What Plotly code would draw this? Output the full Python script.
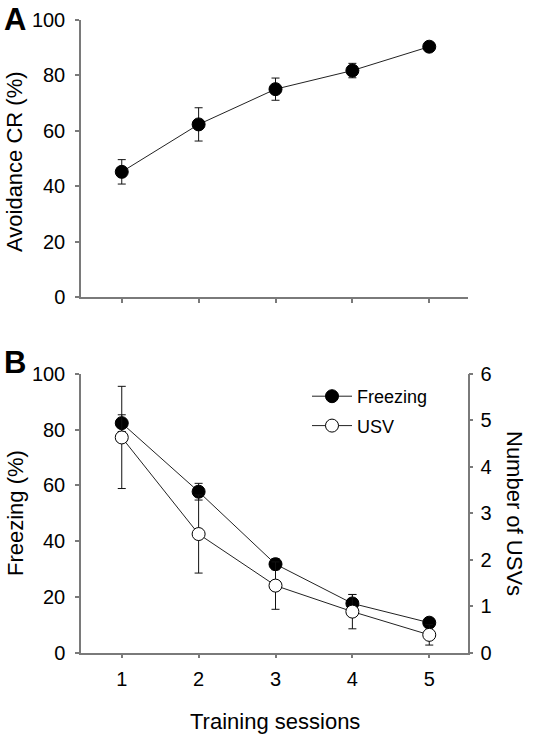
import plotly.graph_objects as go

# ---- data ----
sessions = [1, 2, 3, 4, 5]
session_labels = ["1", "2", "3", "4", "5"]

avoidance = [45.1, 62.2, 74.9, 81.6, 90.2]
avoidance_se = [4.4, 6.0, 4.0, 2.6, 1.2]

freezing = [82.3, 57.7, 31.7, 17.6, 10.7]
freezing_se = [3.0, 3.0, 2.0, 3.2, 1.5]

usv = [4.63, 2.55, 1.44, 0.88, 0.38]
usv_se = [1.10, 0.84, 0.51, 0.37, 0.22]

W, H = 534, 735
FONT = "Arial, Liberation Sans, sans-serif"
AXC = "#7a7a7a"
LINEC = "#222222"


def px(x):
    return x / W


def py(y):
    return 1 - y / H


fig = go.Figure()

err_style = dict(type="data", visible=True, color="#111111", thickness=1, width=4)

fig.add_trace(go.Scatter(
    x=sessions, y=avoidance, xaxis="x", yaxis="y",
    mode="lines+markers",
    line=dict(color=LINEC, width=1),
    marker=dict(size=13, color="black", line=dict(color="black", width=1)),
    error_y=dict(array=avoidance_se, **err_style),
    showlegend=False,
))

fig.add_trace(go.Scatter(
    x=sessions, y=freezing, xaxis="x2", yaxis="y2",
    mode="lines+markers", name="Freezing",
    line=dict(color=LINEC, width=1),
    marker=dict(size=13, color="black", line=dict(color="black", width=1)),
    error_y=dict(array=freezing_se, **err_style),
    legendgroup="a",
))

fig.add_trace(go.Scatter(
    x=sessions, y=usv, xaxis="x2", yaxis="y3",
    mode="lines+markers", name="USV",
    line=dict(color=LINEC, width=1),
    marker=dict(size=13, color="white", line=dict(color="black", width=1)),
    error_y=dict(array=usv_se, **err_style),
    legendgroup="b",
))

xdom = [px(81), px(467.7)]
common_axis = dict(
    showline=True, linecolor=AXC, linewidth=1.5,
    ticks="outside", ticklen=4, tickwidth=1.5, tickcolor=AXC,
    showgrid=False, zeroline=False, automargin=False,
    tickfont=dict(family=FONT, size=20, color="black"),
)

fig.update_layout(
    width=W, height=H,
    margin=dict(l=0, r=0, t=0, b=0, autoexpand=False),
    paper_bgcolor="white", plot_bgcolor="white",
    font=dict(family=FONT, color="black"),
    xaxis=dict(domain=xdom, anchor="y", range=[0.47, 5.5],
               tickvals=sessions, showticklabels=False, **common_axis),
    yaxis=dict(domain=[py(297), py(19.5)], anchor="x", range=[0, 100],
               tickvals=[0, 20, 40, 60, 80, 100], ticklabelstandoff=6, **common_axis),
    xaxis2=dict(domain=xdom, anchor="y2", range=[0.47, 5.5],
                tickvals=sessions, ticktext=session_labels, ticklabelstandoff=4, **common_axis),
    yaxis2=dict(domain=[py(652.5), py(373.8)], anchor="x2", range=[0, 100],
                tickvals=[0, 20, 40, 60, 80, 100], ticklabelstandoff=6, **common_axis),
    yaxis3=dict(overlaying="y2", anchor="x2", side="right", range=[0, 6],
                tickvals=[0, 1, 2, 3, 4, 5, 6], ticklabelstandoff=3, **common_axis),
    legend=dict(x=px(307), y=py(378), xanchor="left", yanchor="top",
                font=dict(family=FONT, size=18, color="black"),
                bgcolor="rgba(0,0,0,0)", tracegroupgap=3,
                itemwidth=40),
)

ann = [
    dict(text="<b>A</b>", x=px(2), y=1, xanchor="left", yanchor="top", font=dict(size=31)),
    dict(text="<b>B</b>", x=px(2), y=py(363), xanchor="left", yanchor="middle", font=dict(size=31)),
    dict(text="Avoidance CR (%)", x=px(15), y=py(162), textangle=-90, font=dict(size=22)),
    dict(text="Freezing (%)", x=px(15), y=py(513), textangle=-90, font=dict(size=22)),
    dict(text="Number of USVs", x=px(515), y=py(513), textangle=90, font=dict(size=22)),
    dict(text="Training sessions", x=px(275), y=py(721), font=dict(size=22)),
]
for a in ann:
    a.update(xref="paper", yref="paper", showarrow=False)
    a.setdefault("xanchor", "center")
    a.setdefault("yanchor", "middle")
    a["font"].update(family=FONT, color="black")
fig.update_layout(annotations=ann)

fig.write_html("out.html", config={"displayModeBar": False},
               post_script="document.body.style.margin='0px';")
